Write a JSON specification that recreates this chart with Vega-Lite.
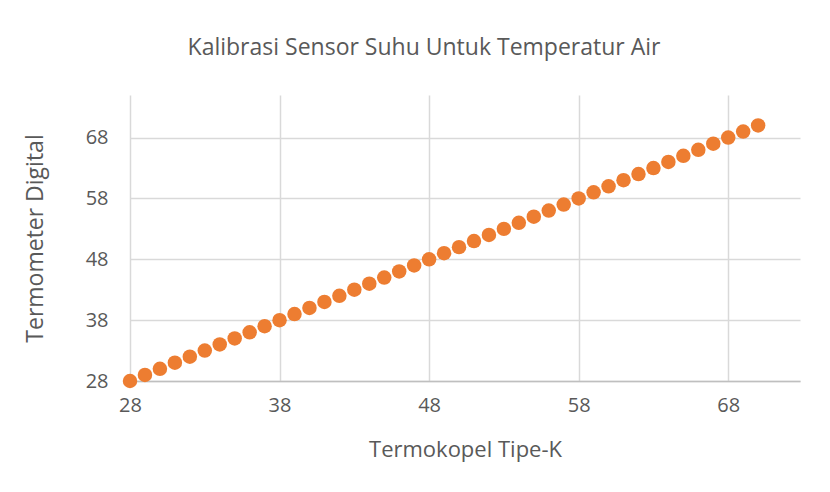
{
  "$schema": "https://vega.github.io/schema/vega-lite/v6.json",
  "width": 670,
  "height": 286,
  "autosize": {"type": "none"},
  "padding": {"left": 130, "top": 95, "right": 30, "bottom": 111},
  "background": "white",
  "title": {
    "text": "Kalibrasi Sensor Suhu Untuk Temperatur Air",
    "font": "Open Sans",
    "fontSize": 23,
    "fontWeight": "normal",
    "color": "#595959",
    "anchor": "middle",
    "dx": -41,
    "offset": 35
  },
  "data": {
    "values": [
      {"tk": 28, "td": 28}, {"tk": 29, "td": 29}, {"tk": 30, "td": 30}, {"tk": 31, "td": 31},
      {"tk": 32, "td": 32}, {"tk": 33, "td": 33}, {"tk": 34, "td": 34}, {"tk": 35, "td": 35},
      {"tk": 36, "td": 36}, {"tk": 37, "td": 37}, {"tk": 38, "td": 38}, {"tk": 39, "td": 39},
      {"tk": 40, "td": 40}, {"tk": 41, "td": 41}, {"tk": 42, "td": 42}, {"tk": 43, "td": 43},
      {"tk": 44, "td": 44}, {"tk": 45, "td": 45}, {"tk": 46, "td": 46}, {"tk": 47, "td": 47},
      {"tk": 48, "td": 48}, {"tk": 49, "td": 49}, {"tk": 50, "td": 50}, {"tk": 51, "td": 51},
      {"tk": 52, "td": 52}, {"tk": 53, "td": 53}, {"tk": 54, "td": 54}, {"tk": 55, "td": 55},
      {"tk": 56, "td": 56}, {"tk": 57, "td": 57}, {"tk": 58, "td": 58}, {"tk": 59, "td": 59},
      {"tk": 60, "td": 60}, {"tk": 61, "td": 61}, {"tk": 62, "td": 62}, {"tk": 63, "td": 63},
      {"tk": 64, "td": 64}, {"tk": 65, "td": 65}, {"tk": 66, "td": 66}, {"tk": 67, "td": 67},
      {"tk": 68, "td": 68}, {"tk": 69, "td": 69}, {"tk": 70, "td": 70}
    ]
  },
  "mark": {"type": "circle", "size": 210, "color": "#ED7D31", "opacity": 1},
  "encoding": {
    "x": {
      "field": "tk",
      "type": "quantitative",
      "title": "Termokopel Tipe-K",
      "scale": {"domain": [28, 72.8], "nice": false, "zero": false},
      "axis": {
        "values": [28, 38, 48, 58, 68],
        "ticks": false,
        "domain": true,
        "domainColor": "#BFBFBF",
        "domainWidth": 1.5,
        "gridColor": "#D9D9D9",
        "gridWidth": 1.5,
        "labelFlush": false,
        "labelFont": "Open Sans",
        "labelFontSize": 20,
        "labelColor": "#595959",
        "labelPadding": 14,
        "titleFont": "Open Sans",
        "titleFontSize": 22,
        "titleFontWeight": "normal",
        "titleColor": "#595959",
        "titlePadding": 24
      }
    },
    "y": {
      "field": "td",
      "type": "quantitative",
      "title": "Termometer Digital",
      "scale": {"domain": [28, 75], "nice": false, "zero": false},
      "axis": {
        "values": [28, 38, 48, 58, 68],
        "ticks": false,
        "domain": false,
        "gridColor": "#D9D9D9",
        "gridWidth": 1.5,
        "labelFlush": false,
        "labelFont": "Open Sans",
        "labelFontSize": 20,
        "labelColor": "#595959",
        "labelPadding": 22,
        "titleFont": "Open Sans",
        "titleFontSize": 23,
        "titleFontWeight": "normal",
        "titleColor": "#595959",
        "titlePadding": 38
      }
    }
  },
  "config": {"view": {"stroke": null}}
}
